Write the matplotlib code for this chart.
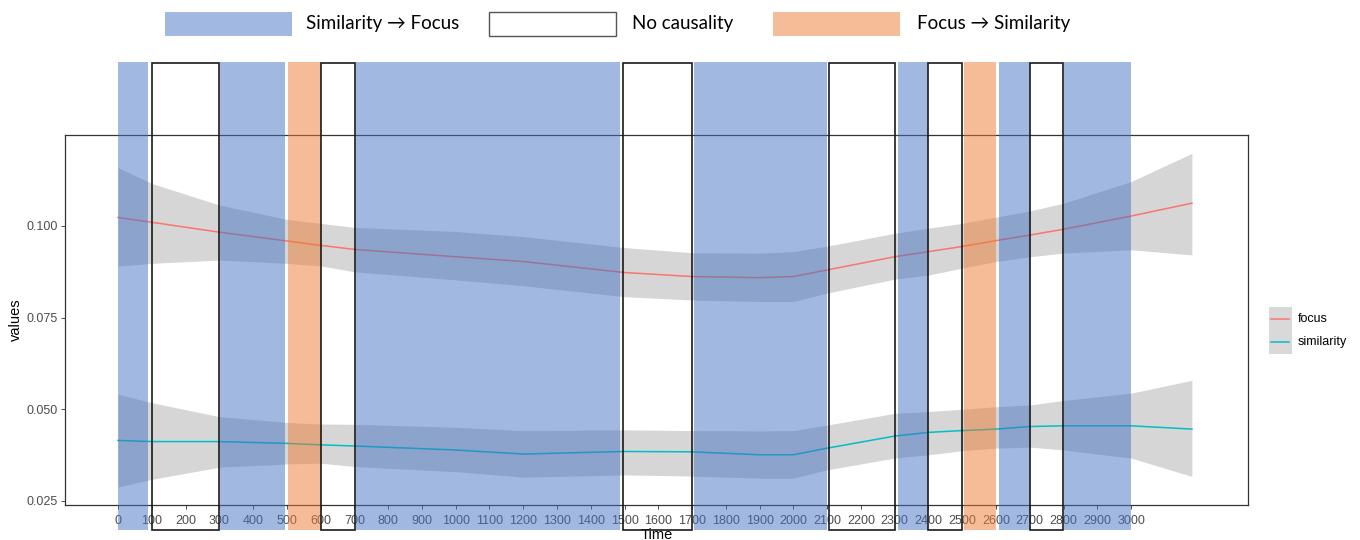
import numpy as np
import matplotlib.pyplot as plt
import matplotlib.transforms as mtransforms
from matplotlib.patches import Rectangle
from matplotlib.lines import Line2D

# smoothed curves
time = [0, 100, 300, 500, 600, 700, 1000, 1200, 1500, 1700, 1900, 2000,
        2100, 2300, 2400, 2500, 2600, 2700, 2800, 3000, 3180]
focus = [0.1023, 0.1010, 0.0983, 0.0959, 0.0947, 0.0936, 0.0916, 0.0903, 0.0873, 0.0862, 0.0859, 0.0862,
         0.0880, 0.0916, 0.0930, 0.0944, 0.0960, 0.0975, 0.0991, 0.1027, 0.1062]
focus_hi = [0.1159, 0.1116, 0.1057, 0.1018, 0.1007, 0.0996, 0.0985, 0.0971, 0.0941, 0.0927, 0.0926, 0.0930,
            0.0945, 0.0980, 0.0994, 0.1007, 0.1024, 0.1041, 0.1062, 0.1121, 0.1198]
focus_lo = [0.0891, 0.0898, 0.0907, 0.0898, 0.0891, 0.0875, 0.0853, 0.0837, 0.0807, 0.0798, 0.0794, 0.0794,
            0.0817, 0.0855, 0.0866, 0.0885, 0.0903, 0.0916, 0.0926, 0.0935, 0.0921]
similarity = [0.0415, 0.0412, 0.0412, 0.0407, 0.0403, 0.0400, 0.0389, 0.0378, 0.0385, 0.0384, 0.0376, 0.0376,
              0.0394, 0.0427, 0.0437, 0.0442, 0.0446, 0.0453, 0.0455, 0.0455, 0.0446]
sim_hi = [0.0541, 0.0518, 0.0480, 0.0464, 0.0460, 0.0459, 0.0451, 0.0442, 0.0444, 0.0442, 0.0441, 0.0442,
          0.0457, 0.0489, 0.0494, 0.0500, 0.0507, 0.0512, 0.0524, 0.0544, 0.0579]
sim_lo = [0.0288, 0.0309, 0.0342, 0.0351, 0.0353, 0.0344, 0.0330, 0.0315, 0.0321, 0.0318, 0.0312, 0.0312,
          0.0335, 0.0367, 0.0376, 0.0387, 0.0394, 0.0397, 0.0389, 0.0367, 0.0317]

# causality periods (start, end)
sim_to_focus = [(0, 90), (303, 494), (706, 1487), (1707, 2100), (2309, 2398), (2609, 2700), (2802, 3000)]
focus_to_sim = [(502, 600), (2504, 2600)]
no_causality = [(100, 298), (602, 703), (1495, 1700), (2105, 2300), (2400, 2498), (2702, 2798)]

x_ticks = list(range(0, 3001, 100))
y_ticks = [0.025, 0.050, 0.075, 0.100]

BLUE = '#4472C4'
ORANGE = '#ED7D31'

fig = plt.figure(figsize=(13.6, 5.4), dpi=100)
ax = fig.add_axes([0.0478, 0.0648, 0.8698, 0.6852])

ax.fill_between(time, focus_lo, focus_hi, color='#999999', alpha=0.4, linewidth=0)
ax.fill_between(time, sim_lo, sim_hi, color='#999999', alpha=0.4, linewidth=0)
ax.plot(time, focus, color='#F8766D', lw=1.1)
ax.plot(time, similarity, color='#00BFC4', lw=1.1)

ax.set_xlim(-157, 3346)
ax.set_ylim(0.0239, 0.1248)
ax.set_xticks(x_ticks)
ax.set_yticks(y_ticks)
ax.set_yticklabels(['%.3f' % v for v in y_ticks])
ax.tick_params(axis='both', labelsize=9, labelcolor='#4D4D4D', color='#333333',
               length=3, width=0.6)
ax.tick_params(axis='x', pad=4)
ax.tick_params(axis='y', pad=2)
for lab in ax.get_xticklabels() + ax.get_yticklabels():
    lab.set_family('Liberation Sans')
for s in ax.spines.values():
    s.set_color('#333333')
    s.set_linewidth(0.9)
ax.set_xlabel('Time', fontsize=10.5, family='Liberation Sans', labelpad=1)
ax.set_ylabel('values', fontsize=10.5, family='Liberation Sans', labelpad=3)

# overlay bars: x in data units, y in figure fraction
trans = mtransforms.blended_transform_factory(ax.transData, fig.transFigure)
y0, y1 = 0.0185, 0.885
for a, b in sim_to_focus:
    fig.add_artist(Rectangle((a, y0), b - a, y1 - y0, transform=trans,
                             facecolor=BLUE, alpha=0.5, linewidth=0, zorder=5))
for a, b in focus_to_sim:
    fig.add_artist(Rectangle((a, y0), b - a, y1 - y0, transform=trans,
                             facecolor=ORANGE, alpha=0.5, linewidth=0, zorder=5))
for a, b in no_causality:
    fig.add_artist(Rectangle((a, y0), b - a, y1 - y0 - 0.002, transform=trans,
                             facecolor='none', edgecolor='#1a1a1a', linewidth=1.2, zorder=6))

# top legend
fam = ['Lato', 'DejaVu Sans']
legend_items = [(0.1213, BLUE, 0.5, 'none', 'Similarity \u2192 Focus', 0.225),
                (0.3596, 'white', 1, '#555555', 'No causality', 0.4647),
                (0.5684, ORANGE, 0.5, 'none', 'Focus \u2192 Similarity', 0.674)]
for x, fc, al, ec, label, tx in legend_items:
    fig.add_artist(Rectangle((x, 0.9333), 0.0934, 0.0445, transform=fig.transFigure,
                             facecolor=fc, alpha=al, edgecolor='none'))
    if ec != 'none':
        fig.add_artist(Rectangle((x, 0.9333), 0.0934, 0.0445, transform=fig.transFigure,
                                 facecolor='none', edgecolor=ec, linewidth=1.0))
    fig.text(tx, 0.9556, label, fontsize=13.5, family=fam, va='center', ha='left')

# right legend
fig.add_artist(Rectangle((1269 / 1360, 1 - 354 / 540), 23 / 1360, 47 / 540,
                         transform=fig.transFigure, facecolor='#D9D9D9', edgecolor='none'))
for yy, col, lab in [(319, '#F8766D', 'focus'), (342, '#00BFC4', 'similarity')]:
    yf = 1 - yy / 540
    fig.add_artist(Line2D([1271 / 1360, 1289 / 1360], [yf, yf], transform=fig.transFigure,
                          color=col, lw=1.1))
    fig.text(1298 / 1360, yf, lab, fontsize=9, family='Liberation Sans', va='center', ha='left')

fig.savefig('out.png', dpi=100)
